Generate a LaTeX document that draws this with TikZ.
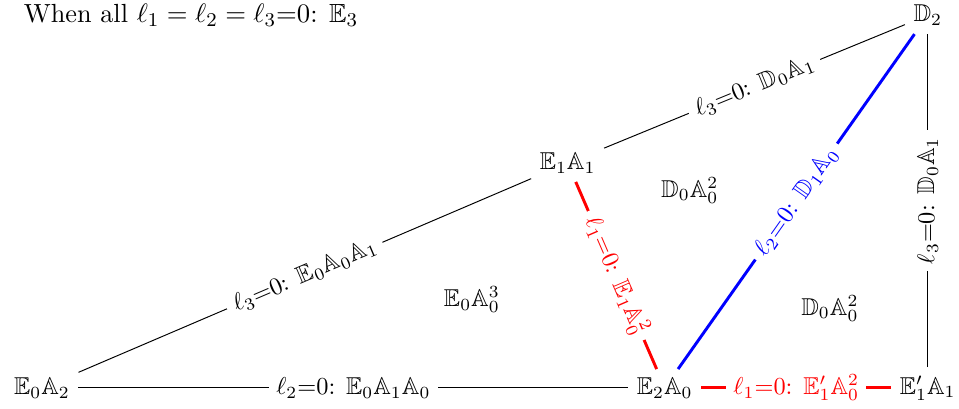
\documentclass[tikz,border=0pt]{standalone}
\usepackage{amssymb}
\begin{document}
\begin{tikzpicture}
\tikzset{
  vtx/.style={inner sep=3.33pt},
  lab/.style={midway,sloped,fill=white,inner sep=3pt},
  thinline/.style={draw=black,line width=0.4pt},
  redline/.style={draw=red,line width=1.2pt},
  blueline/.style={draw=blue,line width=1.2pt}
}
\useasboundingbox (0,0) rectangle (13.82,5.88);
\node[inner sep=0.5pt,anchor=west] (title) at (0.32,5.655) {\fontsize{10.75}{12}\selectfont When all $\ell_1 = \ell_2 = \ell_3{=}0$: $\mathbb{E}_3$};
\node[vtx] (D2) at (13.37,5.66) {$\mathbb{D}_2$};
\node[vtx] (E1A1) at (8.18,3.53) {$\mathbb{E}_1\mathbb{A}_1$};
\node[vtx] (Du) at (9.94,3.14) {$\mathbb{D}_0\mathbb{A}_0^2$};
\node[vtx] (EA3) at (6.80,1.56) {$\mathbb{E}_0\mathbb{A}_0^3$};
\node[vtx] (Dl) at (11.96,1.44) {$\mathbb{D}_0\mathbb{A}_0^2$};
\node[vtx] (E0A2) at (0.605,0.29) {$\mathbb{E}_0\mathbb{A}_2$};
\node[vtx] (E2A0) at (9.58,0.29) {$\mathbb{E}_2\mathbb{A}_0$};
\node[vtx] (E1pA1) at (13.37,0.29) {$\mathbb{E}_1'\mathbb{A}_1$};

\draw[thinline] (E0A2) -- node[lab] {$\ell_2{=}0$: $\mathbb{E}_0\mathbb{A}_1\mathbb{A}_0$} (E2A0);
\draw[redline] (E2A0) -- node[lab,text=red] {$\ell_1{=}0$: $\mathbb{E}_1'\mathbb{A}_0^2$} (E1pA1);
\draw[thinline] (E0A2) -- node[lab] {$\ell_3{=}0$: $\mathbb{E}_0\mathbb{A}_0\mathbb{A}_1$} (E1A1);
\draw[thinline] (E1A1) -- node[lab] {$\ell_3{=}0$: $\mathbb{D}_0\mathbb{A}_1$} (D2);
\draw[redline] (E1A1) -- node[lab,text=red] {$\ell_1{=}0$: $\mathbb{E}_1\mathbb{A}_0^2$} (E2A0);
\draw[blueline] (E2A0) -- node[lab,text=blue] {$\ell_2{=}0$: $\mathbb{D}_1\mathbb{A}_0$} (D2);
\draw[thinline] (E1pA1) -- node[lab] {$\ell_3{=}0$: $\mathbb{D}_0\mathbb{A}_1$} (D2);
\end{tikzpicture}
\end{document}
